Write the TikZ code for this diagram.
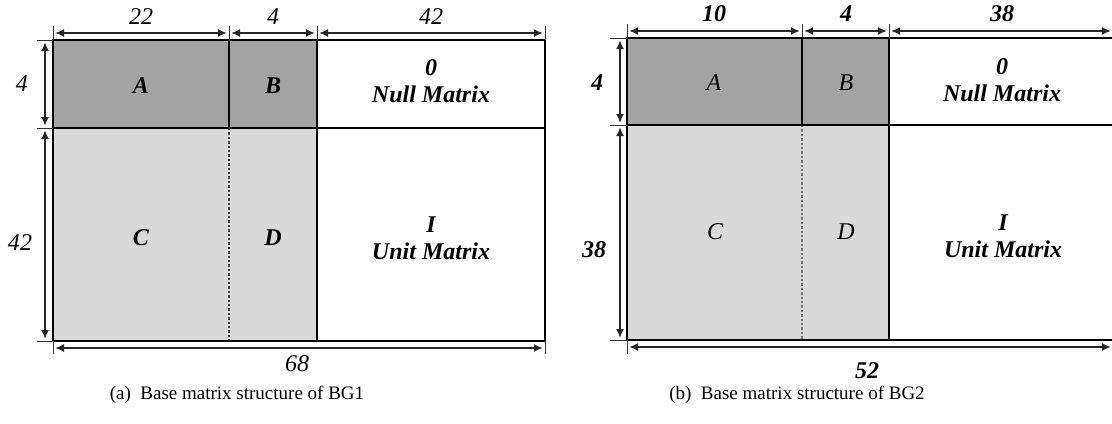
\documentclass[tikz,border=0pt]{standalone}
\usepackage{fontspec}
\setmainfont{Liberation Serif}
\usepackage{tikz}
\usetikzlibrary{arrows.meta}
\tikzset{
  dimarrow/.style={{Latex[length=4.5pt,width=4pt]}-{Latex[length=4.5pt,width=4pt]}, line width=1.1pt, black!85},
  extline/.style={line width=0.5pt, black!80},
  edgeline/.style={line width=1.4pt},
  divline/.style={line width=1pt},
  dotline/.style={line width=1.2pt, densely dotted, black!75},
  darkcell/.style={fill=black!36},
  lightcell/.style={fill=black!15},
  boldlabel/.style={font=\fontsize{12}{13.5}\selectfont\bfseries\itshape, align=center},
  thinlabel/.style={font=\fontsize{12}{13.5}\selectfont\itshape, align=center},
  dimlabel/.style={font=\fontsize{12}{14}\selectfont\itshape},
  bolddim/.style={font=\fontsize{12}{14}\selectfont\bfseries\itshape},
  caplabel/.style={font=\fontsize{9.5}{11}\selectfont}
}

\begin{document}
\begin{tikzpicture}[x=0.5pt, y=-0.5pt]
  \useasboundingbox (0,0) rectangle (1112,423);
  \clip (0,0) rectangle (1112,423);

  % (a) BG1
  \fill[darkcell] (53,40) rectangle (317,128);
  \fill[lightcell] (53,128) rectangle (317,341);
  \draw[dotline] (229,128) -- (229,341);
  \draw[divline] (229,40) -- (229,128);
  \draw[divline] (317,40) -- (317,341);
  \draw[divline] (53,128) -- (545,128);
  \draw[edgeline] (53,40) rectangle (545,341);
  \foreach \x in {53,229,317,545} \draw[extline] (\x,26) -- (\x,40);
  \foreach \y in {40,128,341} \draw[extline] (37,\y) -- (53,\y);
  \foreach \x in {53,545} \draw[extline] (\x,341) -- (\x,354);
  \coordinate (a-t0) at (55,33);  \coordinate (a-t1) at (227,33);
  \coordinate (a-t2) at (231,33); \coordinate (a-t3) at (315,33);
  \coordinate (a-t4) at (319,33); \coordinate (a-t5) at (543,33);
  \coordinate (a-l0) at (45,42);  \coordinate (a-l1) at (45,126);
  \coordinate (a-l2) at (45,130); \coordinate (a-l3) at (45,339);
  \coordinate (a-b0) at (55,348); \coordinate (a-b1) at (543,348);
  \draw[dimarrow] (a-t0) -- (a-t1);
  \draw[dimarrow] (a-t2) -- (a-t3);
  \draw[dimarrow] (a-t4) -- (a-t5);
  \draw[dimarrow] (a-l0) -- (a-l1);
  \draw[dimarrow] (a-l2) -- (a-l3);
  \draw[dimarrow] (a-b0) -- (a-b1);
  \node[dimlabel] (a-w1) at (141,17) {22};
  \node[dimlabel] (a-w2) at (273,17) {4};
  \node[dimlabel] (a-w3) at (431,17) {42};
  \node[dimlabel] (a-h1) at (22,84) {4};
  \node[dimlabel] (a-h2) at (20,243) {42};
  \node[dimlabel] (a-n) at (297,364) {68};
  \node[boldlabel] (a-A) at (141,86) {A};
  \node[boldlabel] (a-B) at (273,86) {B};
  \node[boldlabel] (a-O) at (431,81) {0\\Null Matrix};
  \node[boldlabel] (a-C) at (141,238) {C};
  \node[boldlabel] (a-D) at (273,238) {D};
  \node[boldlabel] (a-I) at (431,238) {I\\Unit Matrix};
  \node[caplabel] (a-cap) at (237,395) {(a)~ Base matrix structure of BG1};

  % (b) BG2
  \fill[darkcell] (627,38) rectangle (889,125);
  \fill[lightcell] (627,125) rectangle (889,340);
  \draw[dotline, line width=0.6pt, black!55] (802,125) -- (802,340);
  \draw[divline] (802,38) -- (802,125);
  \draw[divline] (889,38) -- (889,340);
  \draw[edgeline] (627,125) -- (1117,125);
  \draw[edgeline] (627,38) rectangle (1117,340);
  \foreach \x in {627,802,889} \draw[extline] (\x,24) -- (\x,38);
  \foreach \y in {38,125,340} \draw[extline] (610,\y) -- (627,\y);
  \draw[extline] (627,340) -- (627,354);
  \coordinate (b-t0) at (629,31);  \coordinate (b-t1) at (800,31);
  \coordinate (b-t2) at (804,31);  \coordinate (b-t3) at (887,31);
  \coordinate (b-t4) at (891,31);  \coordinate (b-t5) at (1111,31);
  \coordinate (b-l0) at (620,40);  \coordinate (b-l1) at (620,123);
  \coordinate (b-l2) at (620,127); \coordinate (b-l3) at (620,338);
  \coordinate (b-b0) at (629,347); \coordinate (b-b1) at (1111,347);
  \draw[dimarrow] (b-t0) -- (b-t1);
  \draw[dimarrow] (b-t2) -- (b-t3);
  \draw[dimarrow] (b-t4) -- (b-t5);
  \draw[dimarrow] (b-l0) -- (b-l1);
  \draw[dimarrow] (b-l2) -- (b-l3);
  \draw[dimarrow] (b-b0) -- (b-b1);
  \node[bolddim] (b-w1) at (714,14) {10};
  \node[bolddim] (b-w2) at (846,14) {4};
  \node[bolddim] (b-w3) at (1002,14) {38};
  \node[bolddim] (b-h1) at (597,83) {4};
  \node[bolddim] (b-h2) at (594,250) {38};
  \node[bolddim] (b-n) at (867,371) {52};
  \node[thinlabel] (b-A) at (714,83) {A};
  \node[thinlabel] (b-B) at (846,83) {B};
  \node[boldlabel] (b-O) at (1002,80) {0\\Null Matrix};
  \node[thinlabel] (b-C) at (715,232) {C};
  \node[thinlabel] (b-D) at (846,232) {D};
  \node[boldlabel] (b-I) at (1003,236) {I\\Unit Matrix};
  \node[caplabel] (b-cap) at (797,395) {(b)~ Base matrix structure of BG2};
\end{tikzpicture}
\end{document}
